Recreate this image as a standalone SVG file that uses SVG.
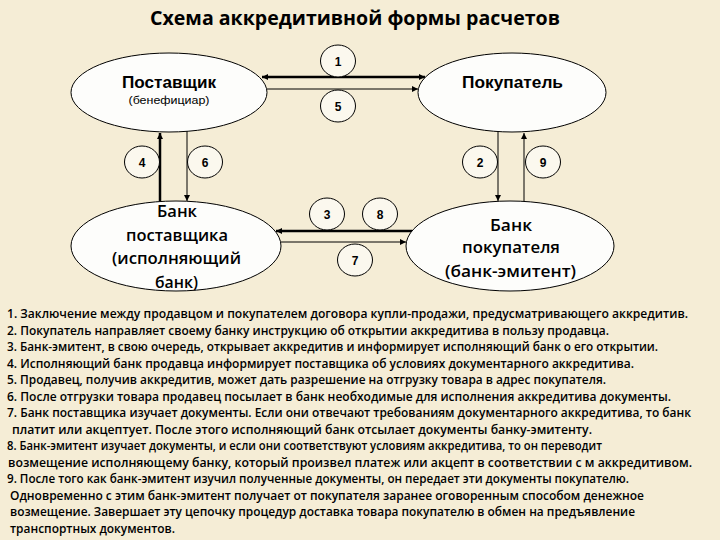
<svg xmlns="http://www.w3.org/2000/svg" width="720" height="540" viewBox="0 0 720 540">
<style>
.node{fill:#FDFDFB;stroke:#000;stroke-width:1}
.num{fill:#FBF8EE;stroke:#000;stroke-width:1}
.nt{font-family:"Liberation Sans",Arial,sans-serif;font-weight:bold;font-size:12px;fill:#000;text-anchor:middle}
.lbl{font-family:"Liberation Sans",Arial,sans-serif;font-weight:bold;font-size:16px;fill:#000;text-anchor:middle}
.sub{font-family:"Liberation Sans",Arial,sans-serif;font-size:10px;fill:#000;text-anchor:middle}
.bank{font-family:"Open Sans","Liberation Sans",sans-serif;font-weight:600;font-size:17px;fill:#000;text-anchor:middle}
.title{font-family:"Open Sans","Liberation Sans",sans-serif;font-weight:bold;font-size:20px;fill:#000;text-anchor:middle}
.list{font-family:"Open Sans","Liberation Sans",sans-serif;font-weight:600;font-size:12px;fill:#000}
.thin{stroke:#000;stroke-width:1;fill:none}
.thick{stroke:#000;stroke-width:2.5;fill:none}
</style>
<defs>
<marker id="ah" viewBox="0 0 10 10" refX="10" refY="5" markerWidth="7" markerHeight="6" markerUnits="userSpaceOnUse" orient="auto-start-reverse">
<path d="M0,0 L10,5 L0,10 z" fill="#000"/>
</marker>
</defs>
<rect width="720" height="540" fill="#F5EDD6"/>
<text class="title" x="355" y="25" textLength="410" lengthAdjust="spacingAndGlyphs">Схема аккредитивной формы расчетов</text>

<g id="connectors">
<path class="thick" d="M262,77 L425,77" marker-start="url(#ah)" marker-end="url(#ah)"/>
<path class="thin" d="M267,89 L418,89" marker-end="url(#ah)"/>
<path class="thick" d="M160,201 L160,133" marker-end="url(#ah)"/>
<path class="thin" d="M187,131 L187,201" marker-end="url(#ah)"/>
<path class="thin" d="M498,132 L498,201" marker-end="url(#ah)"/>
<path class="thin" d="M524,201 L524,133" marker-end="url(#ah)"/>
<path class="thick" d="M412,231 L276,231" marker-end="url(#ah)"/>
<path class="thin" d="M281,242 L406,242" marker-end="url(#ah)"/>
</g>

<g id="supplier">
<ellipse class="node" cx="169" cy="92.5" rx="98" ry="39.5"/>
<text class="lbl" x="169" y="88" textLength="94" lengthAdjust="spacingAndGlyphs">Поставщик</text>
<text class="sub" x="169" y="104" textLength="81" lengthAdjust="spacingAndGlyphs">(бенефициар)</text>
</g>
<g id="buyer">
<ellipse class="node" cx="512" cy="92.5" rx="94" ry="39.5"/>
<text class="lbl" x="512.5" y="88" textLength="101" lengthAdjust="spacingAndGlyphs">Покупатель</text>
</g>
<g id="supplier-bank">
<ellipse class="node" cx="176" cy="246" rx="105" ry="45"/>
<text class="bank" x="177" y="217" textLength="40" lengthAdjust="spacingAndGlyphs">Банк</text>
<text class="bank" x="177" y="241" textLength="102" lengthAdjust="spacingAndGlyphs">поставщика</text>
<text class="bank" x="176.5" y="264" textLength="129" lengthAdjust="spacingAndGlyphs">(исполняющий</text>
<text class="bank" x="176.5" y="288" textLength="43" lengthAdjust="spacingAndGlyphs">банк)</text>
</g>
<g id="buyer-bank">
<ellipse class="node" cx="510" cy="246" rx="104" ry="45"/>
<text class="bank" x="511" y="231" textLength="42" lengthAdjust="spacingAndGlyphs">Банк</text>
<text class="bank" x="511" y="253" textLength="98" lengthAdjust="spacingAndGlyphs">покупателя</text>
<text class="bank" x="510.5" y="277" textLength="131" lengthAdjust="spacingAndGlyphs">(банк-эмитент)</text>
</g>

<g id="step1"><ellipse class="num" cx="338" cy="61" rx="17.5" ry="16"/><text class="nt" x="338" y="65.5">1</text></g>
<g id="step5"><ellipse class="num" cx="338" cy="106" rx="17.5" ry="16"/><text class="nt" x="338" y="110.5">5</text></g>
<g id="step4"><ellipse class="num" cx="142" cy="162" rx="17.5" ry="16"/><text class="nt" x="142" y="166.5">4</text></g>
<g id="step6"><ellipse class="num" cx="205" cy="162" rx="17.5" ry="16"/><text class="nt" x="205" y="166.5">6</text></g>
<g id="step2"><ellipse class="num" cx="480" cy="162" rx="17.5" ry="16"/><text class="nt" x="480" y="166.5">2</text></g>
<g id="step9"><ellipse class="num" cx="543" cy="162" rx="17.5" ry="16"/><text class="nt" x="543" y="166.5">9</text></g>
<g id="step3"><ellipse class="num" cx="327" cy="214" rx="17.5" ry="16"/><text class="nt" x="327" y="218.5">3</text></g>
<g id="step8"><ellipse class="num" cx="380" cy="214" rx="17.5" ry="16"/><text class="nt" x="380" y="218.5">8</text></g>
<g id="step7"><ellipse class="num" cx="355" cy="260" rx="17.5" ry="16"/><text class="nt" x="355" y="264.5">7</text></g>

<g id="legend">
<text class="list" x="7" y="318" textLength="681" lengthAdjust="spacingAndGlyphs">1. Заключение между продавцом и покупателем договора купли-продажи, предусматривающего аккредитив.</text>
<text class="list" x="7" y="334.5" textLength="602" lengthAdjust="spacingAndGlyphs">2. Покупатель направляет своему банку инструкцию об открытии аккредитива в пользу продавца.</text>
<text class="list" x="7" y="351" textLength="651" lengthAdjust="spacingAndGlyphs">3. Банк-эмитент, в свою очередь, открывает аккредитив и информирует исполняющий банк о  его открытии.</text>
<text class="list" x="7" y="367.5" textLength="627" lengthAdjust="spacingAndGlyphs">4. Исполняющий банк продавца информирует поставщика об условиях документарного аккредитива.</text>
<text class="list" x="7" y="384" textLength="599" lengthAdjust="spacingAndGlyphs">5. Продавец, получив аккредитив, может дать разрешение на отгрузку товара в адрес покупателя.</text>
<text class="list" x="7" y="400.5" textLength="664" lengthAdjust="spacingAndGlyphs">6. После отгрузки товара продавец посылает в банк необходимые для исполнения аккредитива документы.</text>
<text class="list" x="7" y="417" textLength="684" lengthAdjust="spacingAndGlyphs">7. Банк поставщика изучает документы. Если они отвечают требованиям документарного аккредитива, то банк</text>
<text class="list" x="12" y="433.5" textLength="580" lengthAdjust="spacingAndGlyphs">платит  или акцептует. После этого исполняющий банк отсылает документы банку-эмитенту.</text>
<text class="list" x="7" y="450" textLength="595" lengthAdjust="spacingAndGlyphs">8. Банк-эмитент изучает документы, и если они соответствуют условиям аккредитива, то он переводит</text>
<text class="list" x="8" y="466.5" textLength="684" lengthAdjust="spacingAndGlyphs">возмещение исполняющему банку, который произвел платеж или акцепт в соответствии с м аккредитивом.</text>
<text class="list" x="7" y="483" textLength="622" lengthAdjust="spacingAndGlyphs">9. После того как банк-эмитент изучил полученные документы, он передает эти документы покупателю.</text>
<text class="list" x="10" y="499.5" textLength="634" lengthAdjust="spacingAndGlyphs">Одновременно с этим банк-эмитент получает от покупателя заранее оговоренным способом денежное</text>
<text class="list" x="10" y="516" textLength="625" lengthAdjust="spacingAndGlyphs">возмещение. Завершает эту цепочку процедур доставка товара покупателю в обмен на предъявление</text>
<text class="list" x="10" y="532.5" textLength="165" lengthAdjust="spacingAndGlyphs">транспортных документов.</text>
</g>
</svg>
